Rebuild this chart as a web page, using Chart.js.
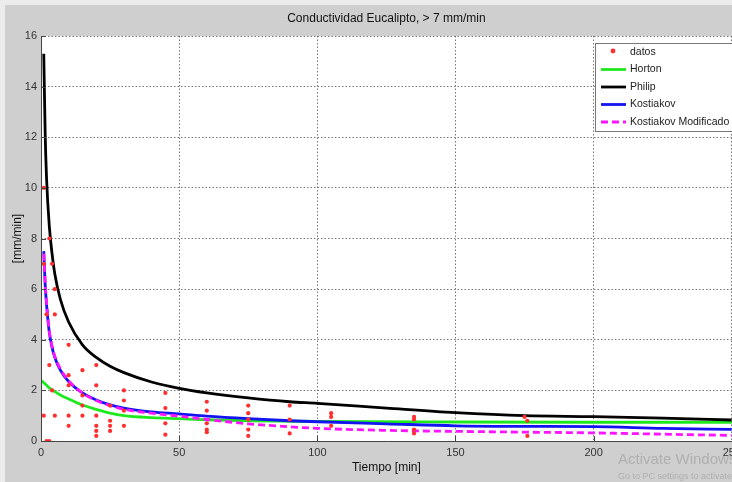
<!DOCTYPE html>
<html>
<head>
<meta charset="utf-8">
<script src="https://cdn.jsdelivr.net/npm/chart.js@4.4.1/dist/chart.umd.min.js"></script>
<style>
  html, body { margin: 0; padding: 0; overflow: hidden; background: #d0d0d0; }
  #wrap { width: 746px; height: 482px; }
</style>
</head>
<body>
<div id="wrap"><canvas id="chart" width="746" height="482"></canvas></div>
<script>
// puntos medidos
const datosTiempo = [1, 3, 1, 4, 5, 2, 5, 10, 3, 20, 15, 10, 10, 20, 4, 15, 15, 25, 30, 30,
  1, 5, 10, 15, 20, 25, 25, 25, 30, 30, 10, 20, 20, 20, 2, 3,
  45, 45, 45, 45, 60, 60, 60, 60, 60, 75, 75, 75, 75, 75, 90, 90, 90,
  105, 105, 105, 135, 135, 135, 135, 175, 176, 176];
const datosValor = [10, 8, 7, 7, 6, 5, 5, 3.8, 3, 3, 2.8, 2.6, 2.2, 2.2, 2, 1.8, 1.4, 1.4, 2, 1.6,
  1, 1, 1, 1, 1, 0.8, 0.6, 0.4, 1.2, 0.6, 0.6, 0.6, 0.4, 0.2, 0, 0,
  1.9, 1.3, 0.7, 0.25, 1.55, 1.2, 0.7, 0.45, 0.35, 1.4, 1.1, 0.85, 0.45, 0.2, 1.4, 0.85, 0.3,
  1.1, 0.95, 0.6, 0.95, 0.85, 0.45, 0.3, 0.95, 0.8, 0.2];

// modelos ajustados
const tiempoHorton = [0, 1, 2, 3, 5, 7, 10, 15, 20, 25, 30, 40, 50, 60, 75, 90, 100, 150, 200, 250];
const horton = [2.4, 2.3, 2.2, 2.1, 1.95, 1.82, 1.66, 1.42, 1.25, 1.1, 1.0, 0.92, 0.88, 0.84, 0.8, 0.78, 0.77, 0.75, 0.74, 0.74];

const tiempoModelos = [1, 1.5, 2, 3, 4, 5, 7, 10, 15, 20, 25, 30, 40, 50, 60, 75, 90, 100, 125, 150, 175, 200, 225, 250];
const philip = [15.3, 12.2, 10.4, 8.5, 7.4, 6.6, 5.6, 4.7, 3.8, 3.3, 2.95, 2.7, 2.33, 2.08, 1.9, 1.7, 1.55, 1.49, 1.3, 1.12, 1.0, 0.96, 0.9, 0.83];
const kostiakov = [7.5, 6.2, 5.4, 4.3, 3.7, 3.3, 2.8, 2.35, 1.9, 1.62, 1.43, 1.3, 1.15, 1.07, 0.98, 0.88, 0.8, 0.76, 0.68, 0.6, 0.58, 0.57, 0.5, 0.46];
const kostiakovMod = [7.4, 6.3, 5.5, 4.35, 3.75, 3.35, 2.85, 2.38, 1.9, 1.6, 1.4, 1.25, 1.1, 0.98, 0.85, 0.68, 0.56, 0.5, 0.42, 0.38, 0.35, 0.32, 0.27, 0.22];

const xTicks = [0, 50, 100, 150, 200, 250];
const yTicks = [0, 2, 4, 6, 8, 10, 12, 14, 16];

const FONT = "'Liberation Sans', Arial, sans-serif";

function toPoints(xs, ys) {
  return xs.map((x, i) => ({ x, y: ys[i] }));
}

function curve(label, xs, ys, color, order, dash) {
  return {
    label,
    order,
    data: toPoints(xs, ys),
    showLine: true,
    borderColor: color,
    backgroundColor: color,
    borderWidth: 2.8,
    borderDash: dash || [],
    pointRadius: 0,
    cubicInterpolationMode: "monotone",
  };
}

const matlabLook = {
  id: "matlabLook",
  beforeDraw: (chart) => {
    const { ctx, chartArea } = chart;
    ctx.save();
    ctx.fillStyle = "#cfcfcf";
    ctx.fillRect(0, 0, chart.width, chart.height);
    ctx.fillStyle = "#ececec";
    ctx.fillRect(0, 0, chart.width, 5);
    ctx.fillRect(0, 0, 5, chart.height);
    ctx.fillStyle = "#ffffff";
    ctx.fillRect(chartArea.left, chartArea.top, chartArea.right - chartArea.left, chartArea.bottom - chartArea.top);
    ctx.restore();
  },
  afterDraw: (chart) => {
    const { ctx, chartArea, scales } = chart;
    ctx.save();

    // title
    ctx.font = `12px ${FONT}`;
    ctx.fillStyle = "#111";
    ctx.textAlign = "center";
    ctx.textBaseline = "middle";
    ctx.fillText("Conductividad Eucalipto, > 7 mm/min", (chartArea.left + chartArea.right) / 2, 19);

    // axis lines and inward ticks
    ctx.strokeStyle = "#444";
    ctx.lineWidth = 1;
    ctx.beginPath();
    ctx.moveTo(chartArea.left + 0.5, chartArea.top);
    ctx.lineTo(chartArea.left + 0.5, chartArea.bottom + 0.5);
    ctx.lineTo(chartArea.right, chartArea.bottom + 0.5);
    xTicks.forEach((v) => {
      const x = Math.round(scales.x.getPixelForValue(v)) + 0.5;
      ctx.moveTo(x, chartArea.bottom);
      ctx.lineTo(x, chartArea.bottom - 5);
    });
    yTicks.forEach((v) => {
      const y = Math.round(scales.y.getPixelForValue(v)) + 0.5;
      ctx.moveTo(chartArea.left, y);
      ctx.lineTo(chartArea.left + 5, y);
    });
    ctx.stroke();

    // legend box
    const bx = 595, by = 43, bw = 138, bh = 88;
    ctx.fillStyle = "#fff";
    ctx.fillRect(bx, by, bw, bh);
    ctx.strokeStyle = "#777";
    ctx.strokeRect(bx + 0.5, by + 0.5, bw, bh);
    ctx.font = `10.5px ${FONT}`;
    ctx.textAlign = "left";
    chart.data.datasets.forEach((ds, i) => {
      const y = by + 9 + i * 17.5;
      if (ds.showLine) {
        ctx.beginPath();
        ctx.strokeStyle = ds.borderColor;
        ctx.lineWidth = 2.8;
        ctx.setLineDash(ds.borderDash);
        ctx.moveTo(bx + 6, y);
        ctx.lineTo(bx + 31, y);
        ctx.stroke();
        ctx.setLineDash([]);
      } else {
        ctx.beginPath();
        ctx.fillStyle = ds.backgroundColor;
        ctx.arc(bx + 18, y - 1, 2.4, 0, 2 * Math.PI);
        ctx.fill();
      }
      ctx.fillStyle = "#222";
      ctx.fillText(ds.label, bx + 35, y);
    });

    // watermark of the screenshot
    ctx.fillStyle = "rgba(150,150,150,0.55)";
    ctx.font = `15px ${FONT}`;
    ctx.fillText("Activate Windows", 618, 460);
    ctx.font = `9px ${FONT}`;
    ctx.fillText("Go to PC settings to activate Windows.", 618, 477);
    ctx.restore();
  },
};

const gridLook = {
  color: "#777",
  lineWidth: 1,
  drawTicks: false,
};

new Chart(document.getElementById("chart"), {
  type: "scatter",
  data: {
    datasets: [
      {
        label: "datos",
        order: 0,
        data: toPoints(datosTiempo, datosValor),
        backgroundColor: "#ff2f2f",
        borderColor: "#ff2f2f",
        pointRadius: 2.1,
        pointBorderWidth: 0,
        showLine: false,
      },
      curve("Horton", tiempoHorton, horton, "#1ee81e", 4),
      curve("Philip", tiempoModelos, philip, "#000000", 3),
      curve("Kostiakov", tiempoModelos, kostiakov, "#1414f0", 2),
      curve("Kostiakov Modificado", tiempoModelos, kostiakovMod, "#ff14ff", 1, [7, 4]),
    ],
  },
  options: {
    responsive: false,
    animation: false,
    layout: { padding: { top: 36, right: 10, left: 0, bottom: 0 } },
    plugins: {
      legend: { display: false },
      tooltip: { enabled: false },
    },
    scales: {
      x: {
        type: "linear",
        min: 0,
        max: 250,
        afterFit: (scale) => { scale.height = 41; },
        afterBuildTicks: (scale) => { scale.ticks = xTicks.map((v) => ({ value: v })); },
        grid: gridLook,
        border: { display: false, dash: [1.5, 2] },
        ticks: { padding: 5, color: "#333", font: { family: FONT, size: 11 } },
        title: {
          display: true,
          text: "Tiempo [min]",
          color: "#111",
          font: { family: FONT, size: 12 },
          padding: { top: 0, bottom: 7 },
        },
      },
      y: {
        min: 0,
        max: 16,
        afterFit: (scale) => { scale.width = 41; },
        afterBuildTicks: (scale) => { scale.ticks = yTicks.map((v) => ({ value: v })); },
        grid: gridLook,
        border: { display: false, dash: [1.5, 2] },
        ticks: { padding: 4, color: "#333", font: { family: FONT, size: 11 } },
        title: {
          display: true,
          text: "[mm/min]",
          color: "#111",
          font: { family: FONT, size: 12 },
          padding: { top: 10, bottom: 0 },
        },
      },
    },
  },
  plugins: [matlabLook],
});
</script>
</body>
</html>
